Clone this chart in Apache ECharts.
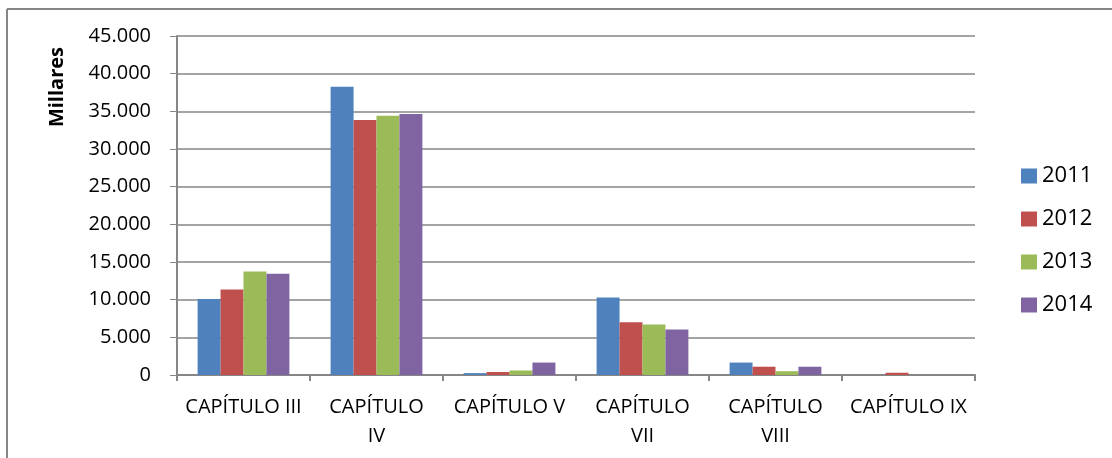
<!DOCTYPE html>
<html>
<head>
<meta charset="utf-8">
<script src="https://cdn.jsdelivr.net/npm/echarts@6/dist/echarts.min.js"></script>
<style>
  html, body { margin: 0; padding: 0; background: #fff; }
  #chart { width: 1112px; height: 458px; }
</style>
</head>
<body>
<div id="chart"></div>
<script>
// capítulos del presupuesto (con el salto de línea del original)
const categories = ['CAPÍTULO III', 'CAPÍTULO\nIV', 'CAPÍTULO V', 'CAPÍTULO\nVII', 'CAPÍTULO\nVIII', 'CAPÍTULO IX'];
const years = ['2011', '2012', '2013', '2014'];

// valores en millares
const v2011 = [10100, 38250, 250, 10300, 1650, 0];
const v2012 = [11350, 33850, 400, 7000, 1100, 300];
const v2013 = [13750, 34400, 600, 6700, 500, 0];
const v2014 = [13450, 34650, 1650, 6050, 1100, 0];

const colors = ['#4F81BD', '#C0504D', '#9BBB59', '#8064A2'];
const seriesValues = [v2011, v2012, v2013, v2014];

const font = "'Open Sans', 'Liberation Sans', sans-serif";

var myChart = echarts.init(document.getElementById('chart'));

var option = {
    animation: false,
    color: colors,
    grid: {
        left: 177,
        right: 137,
        top: 36,
        bottom: 83
    },
    legend: {
        orient: 'vertical',
        left: 1016,
        top: 160,
        itemWidth: 16,
        itemHeight: 15,
        itemGap: 21,
        icon: 'rect',
        textStyle: { fontFamily: font, fontSize: 22, color: '#000', lineHeight: 22 },
        data: years
    },
    xAxis: {
        type: 'category',
        data: categories,
        axisLine: { lineStyle: { color: '#868686', width: 2 } },
        axisTick: { show: true, length: 6, lineStyle: { color: '#868686', width: 2 } },
        axisLabel: {
            fontFamily: font,
            fontSize: 20,
            color: '#000',
            margin: 18,
            interval: 0,
            lineHeight: 29
        }
    },
    yAxis: {
        type: 'value',
        min: 0,
        max: 45000,
        interval: 5000,
        axisLine: { show: true, lineStyle: { color: '#868686', width: 2 } },
        axisTick: { show: true, length: 7, lineStyle: { color: '#868686', width: 1 } },
        splitLine: { lineStyle: { color: '#868686', width: 1.5 } },
        axisLabel: {
            fontFamily: font,
            fontSize: 20,
            color: '#000',
            margin: 26,
            formatter: function (v) {
                return v === 0 ? '0' : v.toLocaleString('de-DE');
            }
        }
    },
    series: years.map(function (y, i) {
        return {
            name: y,
            type: 'bar',
            data: seriesValues[i],
            barGap: '0%',
            barCategoryGap: '31%'
        };
    }),
    graphic: [
        {
            type: 'text',
            left: 47,
            top: 47,
            rotation: Math.PI / 2,
            style: {
                text: 'Millares',
                font: "bold 20px 'Open Sans', 'Liberation Sans', sans-serif",
                fill: '#000'
            }
        },
        {
            type: 'line',
            shape: { x1: 7, y1: 9, x2: 1112, y2: 9 },
            style: { stroke: '#868686', lineWidth: 2 }
        },
        {
            type: 'line',
            shape: { x1: 7, y1: 9, x2: 7, y2: 458 },
            style: { stroke: '#868686', lineWidth: 2 }
        }
    ]
};

myChart.setOption(option);
</script>
</body>
</html>
